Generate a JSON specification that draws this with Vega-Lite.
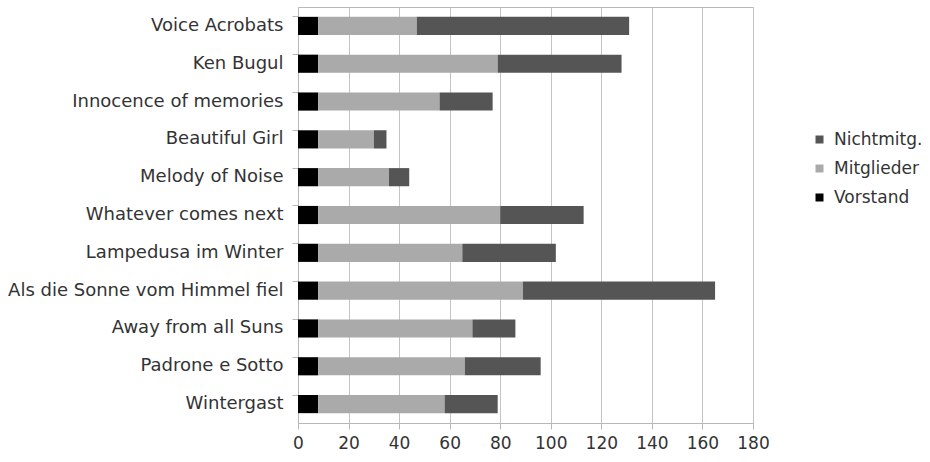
{
  "$schema": "https://vega.github.io/schema/vega-lite/v6.json",
  "width": 455,
  "height": 416,
  "autosize": "none",
  "padding": {"left": 298, "top": 7, "right": 177, "bottom": 39},
  "background": "white",
  "config": {
    "font": "DejaVu Sans",
    "view": {"stroke": "#b8b8b8", "strokeWidth": 1},
    "axis": {"labelFont": "DejaVu Sans", "labelColor": "#333333", "domainColor": "#b8b8b8", "tickColor": "#b8b8b8", "gridColor": "#c4c4c4"}
  },
  "data": {
    "values": [
      {"Titel": "Voice Acrobats", "Gruppe": "Vorstand", "Anzahl": 8},
      {"Titel": "Voice Acrobats", "Gruppe": "Mitglieder", "Anzahl": 39},
      {"Titel": "Voice Acrobats", "Gruppe": "Nichtmitg.", "Anzahl": 84},
      {"Titel": "Ken Bugul", "Gruppe": "Vorstand", "Anzahl": 8},
      {"Titel": "Ken Bugul", "Gruppe": "Mitglieder", "Anzahl": 71},
      {"Titel": "Ken Bugul", "Gruppe": "Nichtmitg.", "Anzahl": 49},
      {"Titel": "Innocence of memories", "Gruppe": "Vorstand", "Anzahl": 8},
      {"Titel": "Innocence of memories", "Gruppe": "Mitglieder", "Anzahl": 48},
      {"Titel": "Innocence of memories", "Gruppe": "Nichtmitg.", "Anzahl": 21},
      {"Titel": "Beautiful Girl", "Gruppe": "Vorstand", "Anzahl": 8},
      {"Titel": "Beautiful Girl", "Gruppe": "Mitglieder", "Anzahl": 22},
      {"Titel": "Beautiful Girl", "Gruppe": "Nichtmitg.", "Anzahl": 5},
      {"Titel": "Melody of Noise", "Gruppe": "Vorstand", "Anzahl": 8},
      {"Titel": "Melody of Noise", "Gruppe": "Mitglieder", "Anzahl": 28},
      {"Titel": "Melody of Noise", "Gruppe": "Nichtmitg.", "Anzahl": 8},
      {"Titel": "Whatever comes next", "Gruppe": "Vorstand", "Anzahl": 8},
      {"Titel": "Whatever comes next", "Gruppe": "Mitglieder", "Anzahl": 72},
      {"Titel": "Whatever comes next", "Gruppe": "Nichtmitg.", "Anzahl": 33},
      {"Titel": "Lampedusa im Winter", "Gruppe": "Vorstand", "Anzahl": 8},
      {"Titel": "Lampedusa im Winter", "Gruppe": "Mitglieder", "Anzahl": 57},
      {"Titel": "Lampedusa im Winter", "Gruppe": "Nichtmitg.", "Anzahl": 37},
      {"Titel": "Als die Sonne vom Himmel fiel", "Gruppe": "Vorstand", "Anzahl": 8},
      {"Titel": "Als die Sonne vom Himmel fiel", "Gruppe": "Mitglieder", "Anzahl": 81},
      {"Titel": "Als die Sonne vom Himmel fiel", "Gruppe": "Nichtmitg.", "Anzahl": 76},
      {"Titel": "Away from all Suns", "Gruppe": "Vorstand", "Anzahl": 8},
      {"Titel": "Away from all Suns", "Gruppe": "Mitglieder", "Anzahl": 61},
      {"Titel": "Away from all Suns", "Gruppe": "Nichtmitg.", "Anzahl": 17},
      {"Titel": "Padrone e Sotto", "Gruppe": "Vorstand", "Anzahl": 8},
      {"Titel": "Padrone e Sotto", "Gruppe": "Mitglieder", "Anzahl": 58},
      {"Titel": "Padrone e Sotto", "Gruppe": "Nichtmitg.", "Anzahl": 30},
      {"Titel": "Wintergast", "Gruppe": "Vorstand", "Anzahl": 8},
      {"Titel": "Wintergast", "Gruppe": "Mitglieder", "Anzahl": 50},
      {"Titel": "Wintergast", "Gruppe": "Nichtmitg.", "Anzahl": 21}
    ]
  },
  "transform": [
    {"calculate": "indexof(['Vorstand','Mitglieder','Nichtmitg.'], datum.Gruppe)", "as": "Stapel"}
  ],
  "mark": {"type": "bar"},
  "encoding": {
    "y": {
      "field": "Titel",
      "type": "nominal",
      "sort": null,
      "title": null,
      "scale": {"paddingInner": 0.52, "paddingOuter": 0.26},
      "axis": {"labelFontSize": 18, "labelPadding": 9, "tickSize": 6, "bandPosition": 0, "domain": true, "labelLimit": 400}
    },
    "x": {
      "field": "Anzahl",
      "type": "quantitative",
      "stack": "zero",
      "title": null,
      "scale": {"domain": [0, 180], "nice": false},
      "axis": {"values": [0, 20, 40, 60, 80, 100, 120, 140, 160, 180], "labelFontSize": 17, "labelPadding": 6, "tickSize": 6, "grid": true, "labelFlush": false}
    },
    "color": {
      "field": "Gruppe",
      "type": "nominal",
      "scale": {"domain": ["Nichtmitg.", "Mitglieder", "Vorstand"], "range": ["#555555", "#aaaaaa", "#000000"]},
      "legend": {
        "title": null,
        "orient": "none",
        "legendX": 513,
        "legendY": 124,
        "symbolType": "square",
        "symbolSize": 64,
        "symbolStrokeWidth": 0,
        "labelFontSize": 17,
        "labelFont": "DejaVu Sans",
        "labelColor": "#333333",
        "labelOffset": 6,
        "rowPadding": 11,
        "padding": 0
      }
    },
    "order": {"field": "Stapel", "type": "quantitative"}
  }
}
